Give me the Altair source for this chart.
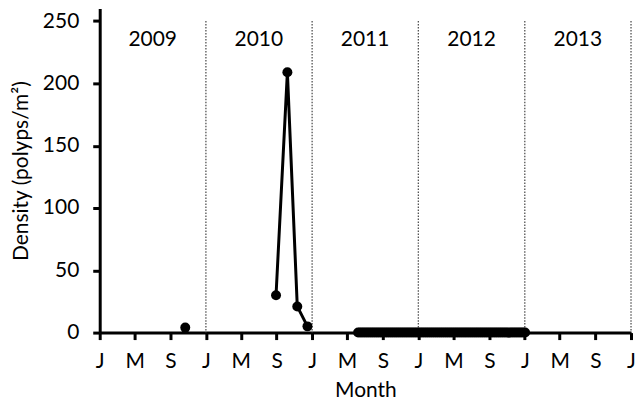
import altair as alt
import pandas as pd

# Series values
dates_2009 = ["2009-10-22"]
vals_2009 = [4]

dates_2010 = ["2010-08-30", "2010-10-08", "2010-11-11", "2010-12-16"]
vals_2010 = [30, 209, 21, 5]

dates_zero = [
    "2011-06-08", "2011-06-15", "2011-06-22", "2011-06-29", "2011-07-06", "2011-07-13",
    "2011-07-20", "2011-07-27", "2011-08-03", "2011-08-10", "2011-08-17", "2011-08-24",
    "2011-08-31", "2011-09-07", "2011-09-14", "2011-09-21", "2011-09-28", "2011-10-05",
    "2011-10-12", "2011-10-19", "2011-10-26", "2011-11-02", "2011-11-09", "2011-11-16",
    "2011-11-23", "2011-11-30", "2011-12-07", "2011-12-14", "2011-12-21", "2011-12-28",
    "2012-01-04", "2012-01-11", "2012-01-18", "2012-01-25", "2012-02-01", "2012-02-08",
    "2012-02-15", "2012-02-22", "2012-02-29", "2012-03-07", "2012-03-14", "2012-03-21",
    "2012-03-28", "2012-04-04", "2012-04-11", "2012-04-18", "2012-04-25", "2012-05-02",
    "2012-05-09", "2012-05-16", "2012-05-23", "2012-05-30", "2012-06-06", "2012-06-13",
    "2012-06-20", "2012-06-27", "2012-07-04", "2012-07-11", "2012-07-18", "2012-07-25",
    "2012-08-01", "2012-08-08", "2012-08-15", "2012-08-22", "2012-08-29", "2012-09-05",
    "2012-09-12", "2012-09-19", "2012-09-26", "2012-10-03", "2012-10-10", "2012-10-17",
    "2012-10-24", "2012-10-31", "2012-11-07", "2012-11-14", "2012-11-21", "2012-11-28",
    "2012-12-05", "2012-12-12", "2012-12-19", "2012-12-26", "2013-01-02",
]
vals_zero = [0] * len(dates_zero)

years = ["2009", "2010", "2011", "2012", "2013"]
year_mid = ["2009-07-02", "2010-07-02", "2011-07-02", "2012-07-02", "2013-07-02"]
year_bounds = ["2010-01-01", "2011-01-01", "2012-01-01", "2013-01-01", "2014-01-01"]

tick_years = [2009, 2010, 2011, 2012, 2013]
tick_months = [1, 5, 9]

FONT = "Lato"
FS = 21

df = pd.DataFrame({
    "date": dates_2009 + dates_2010 + dates_zero,
    "density": vals_2009 + vals_2010 + vals_zero,
    "grp": ["a"] * len(dates_2009) + ["b"] * len(dates_2010) + ["c"] * len(dates_zero),
})
df_years = pd.DataFrame({"date": year_mid, "label": years})
df_bounds = pd.DataFrame({"date": year_bounds})

tick_vals = [alt.DateTime(year=y, month=m, date=1, utc=True) for y in tick_years for m in tick_months]
tick_vals.append(alt.DateTime(year=2014, month=1, date=1, utc=True))

xscale = alt.Scale(type="utc", domain=[alt.DateTime(year=2009, month=1, date=1, utc=True),
                                       alt.DateTime(year=2014, month=1, date=1, utc=True)])
yscale = alt.Scale(domain=[0, 250])

x_axis = alt.Axis(
    values=tick_vals, tickCount=40,
    labelExpr="['J','F','M','A','M','J','J','A','S','O','N','D'][utcmonth(datum.value)]",
    grid=False, domainWidth=3, domainColor="black", tickColor="black", tickWidth=3,
    tickSize=7, labelPadding=11, labelFontSize=FS, labelFont=FONT, labelColor="black",
    labelOverlap=False, labelFlush=False,
    titleFontSize=FS, titleFont=FONT, titleFontWeight="normal", titleColor="black",
    titlePadding=8,
)
y_axis = alt.Axis(
    values=[0, 50, 100, 150, 200, 250], grid=False, domainWidth=3, domainColor="black",
    tickColor="black", tickWidth=3, tickSize=7, labelPadding=14, labelFontSize=FS,
    labelFont=FONT, labelColor="black", labelOverlap=False,
    titleFontSize=FS, titleFont=FONT,
    titleFontWeight="normal", titleColor="black", titlePadding=11,
)

x_enc = alt.X("date:T", scale=xscale, title="Month", axis=x_axis)
y_enc = alt.Y("density:Q", scale=yscale, title="Density (polyps/m²)", axis=y_axis)

bounds = alt.Chart(df_bounds).mark_rule(color="#444", strokeWidth=1.2, strokeDash=[1.5, 1.5]).encode(
    x=x_enc,
    y=alt.datum(250),
    y2=alt.datum(0),
)

lines = alt.Chart(df).mark_line(color="black", strokeWidth=3).encode(
    x=x_enc, y=y_enc, detail="grp:N"
)
points = alt.Chart(df).mark_circle(color="black", opacity=1, size=100).encode(
    x=x_enc, y=y_enc
)
labels = alt.Chart(df_years).mark_text(font=FONT, fontSize=FS, color="black", baseline="middle").encode(
    x=x_enc, y=alt.datum(235), text="label:N"
)

chart = alt.layer(bounds, lines, points, labels).properties(
    width=630, height=393,
    autosize=alt.AutoSizeParams(type="fit", contains="padding"),
    padding={"left": 2, "top": 0, "right": 0, "bottom": 0},
).configure_view(stroke=None)

chart.save("out.html", embed_options={"renderer": "svg", "actions": False})
